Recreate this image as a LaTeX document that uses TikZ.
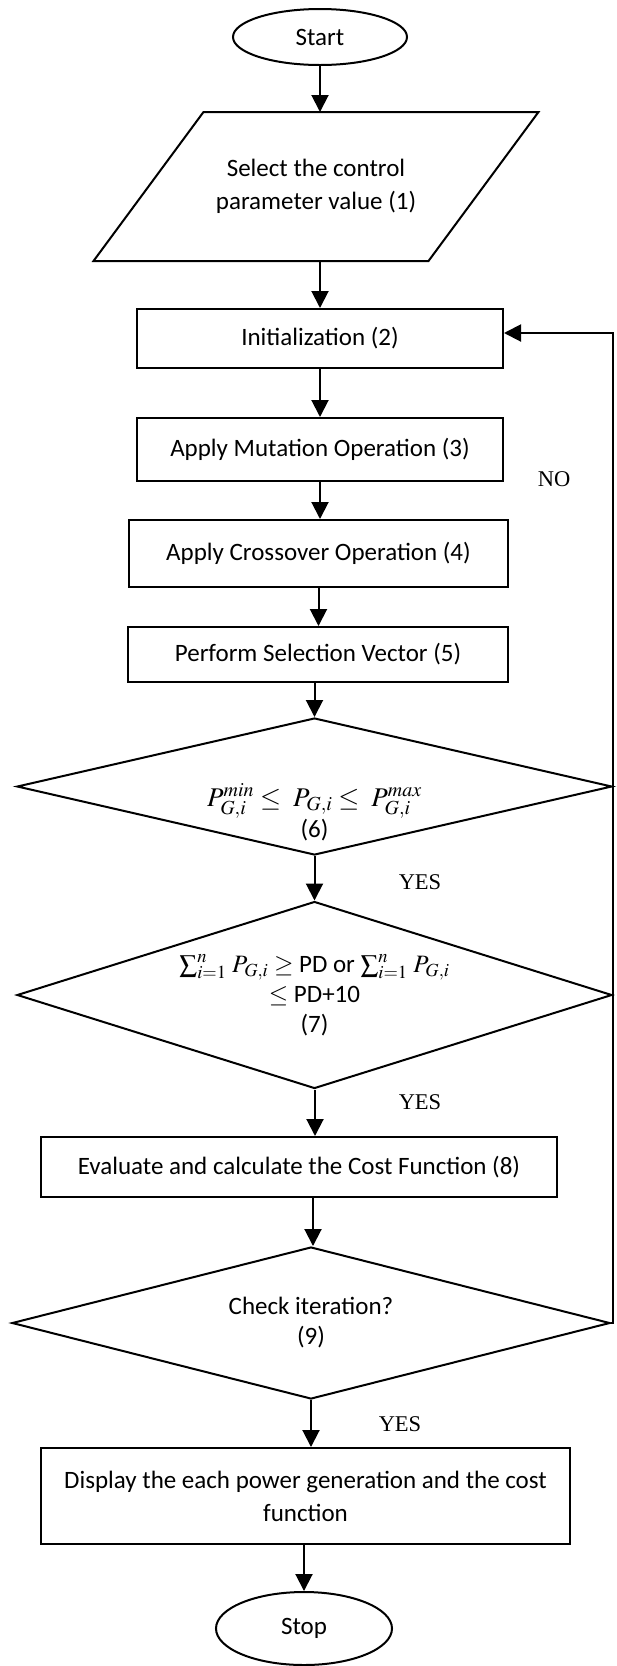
\documentclass[tikz,border=0pt]{standalone}
\usepackage{amsmath}
\usepackage{mathptmx}
\usepackage{fontspec}
\setmainfont{Carlito}
\newfontfamily\lblserif{Liberation Serif}
\usetikzlibrary{shapes.geometric,arrows.meta}
\newcommand\boxfont{\fontsize{25}{33}\selectfont}
\begin{document}
\begin{tikzpicture}[x=1pt,y=-1pt,line width=2pt,
  >={Triangle[length=17pt,width=17pt]},
  box/.style={draw,rectangle,inner sep=0pt,align=center,font=\boxfont},
  term/.style={draw,ellipse,inner sep=0pt,font=\boxfont},
  dec/.style={draw,diamond,inner sep=0pt,align=center,font=\boxfont},
  lbl/.style={font={\lblserif\fontsize{22.5}{26}\selectfont},inner sep=0pt},
  flow/.style={->}]
\useasboundingbox[fill=white] (0,0) rectangle (617,1666);

\node[term,minimum width=174pt,minimum height=56pt] (start) at (320,37) {Start};
\node[inner sep=0pt,minimum width=223pt,minimum height=147pt,align=center,font=\boxfont] (para) at (316,186.5) {Select the control\\parameter value (1)};
\draw ([xshift=-110pt]para.south west) -- (para.south east) -- ([xshift=110pt]para.north east) -- (para.north west) -- cycle;

\node[box,minimum width=366pt,minimum height=59pt] (init) at (320,338.5) {Initialization (2)};
\node[box,minimum width=366pt,minimum height=63pt] (mut) at (320,449.5) {Apply Mutation Operation (3)};
\node[box,minimum width=379pt,minimum height=67pt] (cross) at (318.5,553.5) {Apply Crossover Operation (4)};
\node[box,minimum width=380pt,minimum height=55pt] (sel) at (318,654.5) {Perform Selection Vector (5)};
\node[dec,minimum width=595pt,minimum height=137pt,shape aspect=4.3] (d6) at (314.5,786.5) {};
\node[inner sep=0pt,align=center,font={\fontsize{27}{31}\selectfont}] (d6t) at ([yshift=-26pt]d6.center)
  {$P_{G,i}^{min} \leq\ P_{G,i} \leq\ P_{G,i}^{max}$\\{\fontsize{25}{25}\selectfont(6)}};
\node[dec,minimum width=595pt,minimum height=187pt,shape aspect=3.2,font={\fontsize{25}{30}\selectfont}] (d7) at (314.5,995)
  {$\textstyle\sum_{i=1}^{n}\, P_{G,i}$ $\geq$ PD or $\textstyle\sum_{i=1}^{n}\, P_{G,i}$\\$\leq$ PD+10\\(7)};
\node[box,minimum width=516pt,minimum height=60pt] (eval) at (299,1167) {Evaluate and calculate the Cost Function (8)};
\node[dec,minimum width=598pt,minimum height=152pt,shape aspect=3.9,font={\fontsize{25}{30}\selectfont}] (d9) at (311,1323) {Check iteration?\\(9)};
\node[box,minimum width=529pt,minimum height=96pt] (disp) at (305.5,1496) {Display the each power generation and the cost\\function};
\node[term,minimum width=176pt,minimum height=73pt] (stop) at (304,1628.5) {Stop};

\node[lbl] (no) at (554,479) {NO};
\node[lbl] (yes1) at (420,882) {YES};
\node[lbl] (yes2) at (420,1102) {YES};
\node[lbl] (yes3) at (400,1424) {YES};

\draw[flow] (start.south) -- (start.south |- para.north);
\draw[flow] (para.south -| init.north) -- (init.north);
\draw[flow] (init.south) -- (mut.north);
\draw[flow] (mut.south) -- (mut.south |- cross.north);
\draw[flow] (cross.south) -- (sel.north -| cross.south);
\draw[flow] (sel.south -| d6.north) -- (d6.north);
\draw[flow] (d6.south) -- (d7.north);
\draw[flow] (d7.south -| eval.north) ++(16pt,0) coordinate (e7) -- (e7 |- eval.north);
\draw[flow] (eval.south -| d9.north) ++(2pt,0) coordinate (e8) -- (e8 |- d9.north);
\draw[flow] (d9.south) -- (d9.south |- disp.north);
\draw[flow] (disp.south -| stop.north) -- (stop.north);

\coordinate (fbtop) at (613,333);
\draw[flow] (d9.east) -| (fbtop) -- (fbtop -| init.east);
\end{tikzpicture}
\end{document}
